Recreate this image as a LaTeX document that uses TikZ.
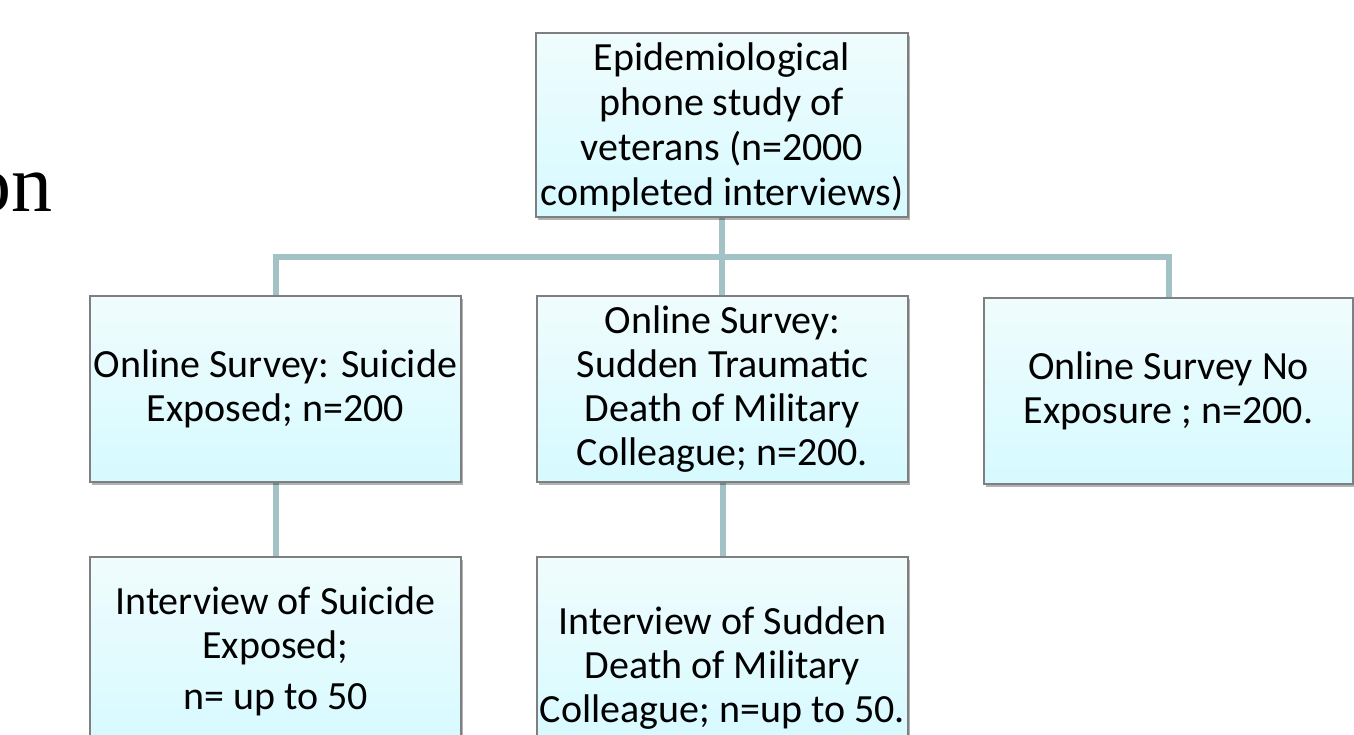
\documentclass[tikz,border=0pt]{standalone}
\usepackage{fontspec}
\setmainfont{Carlito}
\newfontfamily\serifon{Liberation Serif}
\usetikzlibrary{shadows,backgrounds}
\definecolor{conn}{HTML}{A3C2C6}
\definecolor{boxtop}{HTML}{F0FCFD}
\definecolor{boxbot}{HTML}{D6FAFF}
\definecolor{boxline}{HTML}{7F7F7F}
\begin{document}
\begin{tikzpicture}[x=1pt,y=-1pt,
  box/.style={draw=boxline, line width=1.1pt, top color=boxtop, bottom color=boxbot,
    inner sep=0pt, align=center, font=\fontsize{40}{44}\selectfont,
    drop shadow={shadow xshift=2pt, shadow yshift=-3pt, opacity=0.3, fill=black}},
  txt/.style={inner sep=0pt, align=center, font=\fontsize{40}{44}\selectfont},
  link/.style={draw=conn, line width=6pt}]
\useasboundingbox (0,0) rectangle (1354,735);
\clip (0,0) rectangle (1354,735);
\node[font=\serifon\fontsize{82}{90}\selectfont, anchor=base east, inner sep=0pt] (on) at (53,212) {on};
\coordinate (bar) at (722,257.5);
% boxes
\node[box, minimum width=372pt, minimum height=184pt] (top) at (722,125) {};
\node[txt, font=\fontsize{40}{45}\selectfont] (topt) at (722,127) {Epidemiological\\ phone study of\\ veterans (n=2000\\ completed interviews)};
\node[box, minimum width=371pt, minimum height=186pt] (left) at (275.5,389) {Online Survey: Suicide\\ Exposed; n=200};
\node[box, minimum width=371pt, minimum height=186pt] (mid) at (722.5,389) {Online Survey:\\ Sudden Traumatic\\ Death of Military\\ Colleague; n=200.};
\node[box, minimum width=369pt, minimum height=186pt] (right) at (1168.5,391) {Online Survey No\\ Exposure ; n=200.};
\node[box, minimum width=371pt, minimum height=190pt] (bl) at (275.5,652) {};
\node[box, minimum width=371pt, minimum height=190pt] (bm) at (722.5,652) {};
\node[txt, anchor=north] (blt) at (275.5,587) {Interview of Suicide\\ Exposed;\\[7pt] n= up to 50};
\node[txt, anchor=north] (bmt) at (722.5,607) {Interview of Sudden\\ Death of Military\\ Colleague; n=up to 50.};
% connectors
\begin{scope}[on background layer]
\draw[link] (top.south) -- (top.south |- mid.north);
\draw[link] (left.north) -- (left.north |- bar) -- (right.north |- bar) -- (right.north);
\draw[link] (left.south) -- (bl.north);
\draw[link] (mid.south) -- (bm.north);
\end{scope}
\end{tikzpicture}
\end{document}
